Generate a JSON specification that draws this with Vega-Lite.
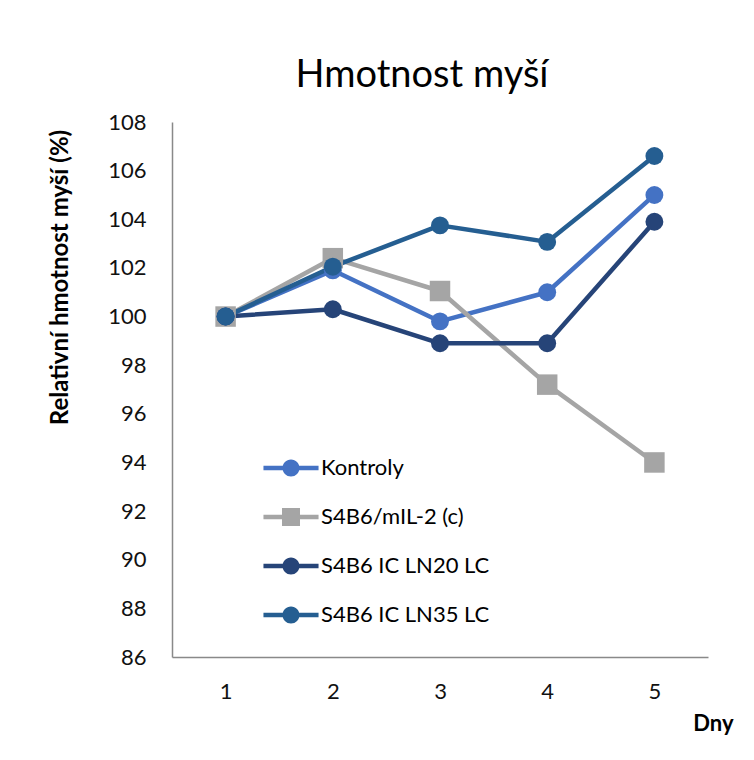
{
  "$schema": "https://vega.github.io/schema/vega-lite/v6.json",
  "width": 536,
  "height": 535,
  "autosize": "none",
  "padding": {"left": 172, "top": 122, "right": 46, "bottom": 103},
  "background": "white",
  "title": {
    "text": "Hmotnost myší",
    "font": "Lato",
    "fontSize": 38,
    "fontWeight": "normal",
    "color": "#000000",
    "anchor": "middle",
    "dx": -18,
    "offset": 16
  },
  "config": {
    "view": {"stroke": null},
    "font": "Lato",
    "legend": {
      "title": null,
      "orient": "none",
      "legendX": 108,
      "legendY": 335,
      "padding": 0,
      "symbolSize": 324,
      "symbolStrokeWidth": 0,
      "symbolOpacity": 1,
      "labelFont": "Lato",
      "labelFontSize": 22,
      "labelColor": "#000000",
      "labelLimit": 0,
      "labelOffset": 19,
      "rowPadding": 27
    }
  },
  "data": {
    "values": [
      {"den": "1", "skupina": "Kontroly", "hodnota": 100},
      {"den": "2", "skupina": "Kontroly", "hodnota": 101.9},
      {"den": "3", "skupina": "Kontroly", "hodnota": 99.8},
      {"den": "4", "skupina": "Kontroly", "hodnota": 101.0},
      {"den": "5", "skupina": "Kontroly", "hodnota": 105.0},
      {"den": "1", "skupina": "S4B6/mIL-2 (c)", "hodnota": 100},
      {"den": "2", "skupina": "S4B6/mIL-2 (c)", "hodnota": 102.4},
      {"den": "3", "skupina": "S4B6/mIL-2 (c)", "hodnota": 101.05},
      {"den": "4", "skupina": "S4B6/mIL-2 (c)", "hodnota": 97.2},
      {"den": "5", "skupina": "S4B6/mIL-2 (c)", "hodnota": 94.0},
      {"den": "1", "skupina": "S4B6 IC LN20 LC", "hodnota": 100},
      {"den": "2", "skupina": "S4B6 IC LN20 LC", "hodnota": 100.3},
      {"den": "3", "skupina": "S4B6 IC LN20 LC", "hodnota": 98.9},
      {"den": "4", "skupina": "S4B6 IC LN20 LC", "hodnota": 98.9},
      {"den": "5", "skupina": "S4B6 IC LN20 LC", "hodnota": 103.9},
      {"den": "1", "skupina": "S4B6 IC LN35 LC", "hodnota": 100},
      {"den": "2", "skupina": "S4B6 IC LN35 LC", "hodnota": 102.05},
      {"den": "3", "skupina": "S4B6 IC LN35 LC", "hodnota": 103.75},
      {"den": "4", "skupina": "S4B6 IC LN35 LC", "hodnota": 103.07},
      {"den": "5", "skupina": "S4B6 IC LN35 LC", "hodnota": 106.6}
    ]
  },
  "encoding": {
    "x": {
      "field": "den",
      "type": "ordinal",
      "scale": {"type": "point", "padding": 0.5},
      "axis": {
        "title": "Dny",
        "labelAngle": 0,
        "labelFont": "Lato",
        "labelFontSize": 22,
        "labelColor": "#111111",
        "labelPadding": 24,
        "ticks": false,
        "domainColor": "#898989",
        "domainWidth": 1.5,
        "titleFont": "Lato",
        "titleFontSize": 22,
        "titleFontWeight": "bold",
        "titleColor": "#000000",
        "titleAnchor": "end",
        "titleAlign": "right",
        "titleBaseline": "middle",
        "titleX": 561,
        "titleY": 66
      }
    },
    "y": {
      "field": "hodnota",
      "type": "quantitative",
      "scale": {"domain": [86, 108], "nice": false, "zero": false},
      "axis": {
        "title": "Relativní hmotnost myší (%)",
        "values": [86, 88, 90, 92, 94, 96, 98, 100, 102, 104, 106, 108],
        "grid": false,
        "ticks": false,
        "labelFont": "Lato",
        "labelFontSize": 22,
        "labelColor": "#111111",
        "labelPadding": 26,
        "domainColor": "#898989",
        "domainWidth": 1.5,
        "titleFont": "Lato",
        "titleFontSize": 24,
        "titleFontWeight": "bold",
        "titleColor": "#000000",
        "titleAngle": -90,
        "titleAlign": "center",
        "titleBaseline": "middle",
        "titleX": -112,
        "titleY": 155
      }
    },
    "color": {
      "field": "skupina",
      "type": "nominal",
      "sort": ["Kontroly", "S4B6/mIL-2 (c)", "S4B6 IC LN20 LC", "S4B6 IC LN35 LC"],
      "scale": {
        "domain": ["Kontroly", "S4B6/mIL-2 (c)", "S4B6 IC LN20 LC", "S4B6 IC LN35 LC"],
        "range": ["#4472C4", "#A5A5A5", "#264478", "#255E91"]
      },
      "legend": {"title": null}
    },
    "order": {"field": "den"}
  },
  "layer": [
    {
      "mark": {"type": "line", "strokeWidth": 4.5, "strokeCap": "round", "strokeJoin": "round"}
    },
    {
      "transform": [{"filter": "datum.skupina === 'S4B6/mIL-2 (c)'"}],
      "mark": {"type": "point", "shape": "square", "filled": true, "opacity": 1, "strokeWidth": 0, "size": 420}
    },
    {
      "transform": [{"filter": "datum.skupina !== 'S4B6/mIL-2 (c)'"}],
      "mark": {"type": "point", "shape": "circle", "filled": true, "opacity": 1, "strokeWidth": 0, "size": 320}
    },
    {
      "mark": {"type": "point", "filled": true, "opacity": 0, "strokeWidth": 0},
      "encoding": {
        "shape": {
          "field": "skupina",
          "type": "nominal",
          "scale": {
            "domain": ["Kontroly", "S4B6/mIL-2 (c)", "S4B6 IC LN20 LC", "S4B6 IC LN35 LC"],
            "range": [
              "M-3.06,-0.26 H3.06 V0.26 H-3.06 Z M0.95,0 A0.95,0.95 0 1,1 -0.95,0 A0.95,0.95 0 1,1 0.95,0 Z",
              "M-3.06,-0.26 H3.06 V0.26 H-3.06 Z M-1,-1 H1 V1 H-1 Z",
              "M-3.06,-0.26 H3.06 V0.26 H-3.06 Z M0.95,0 A0.95,0.95 0 1,1 -0.95,0 A0.95,0.95 0 1,1 0.95,0 Z",
              "M-3.06,-0.26 H3.06 V0.26 H-3.06 Z M0.95,0 A0.95,0.95 0 1,1 -0.95,0 A0.95,0.95 0 1,1 0.95,0 Z"
            ]
          },
          "legend": {"title": null}
        }
      }
    }
  ]
}
